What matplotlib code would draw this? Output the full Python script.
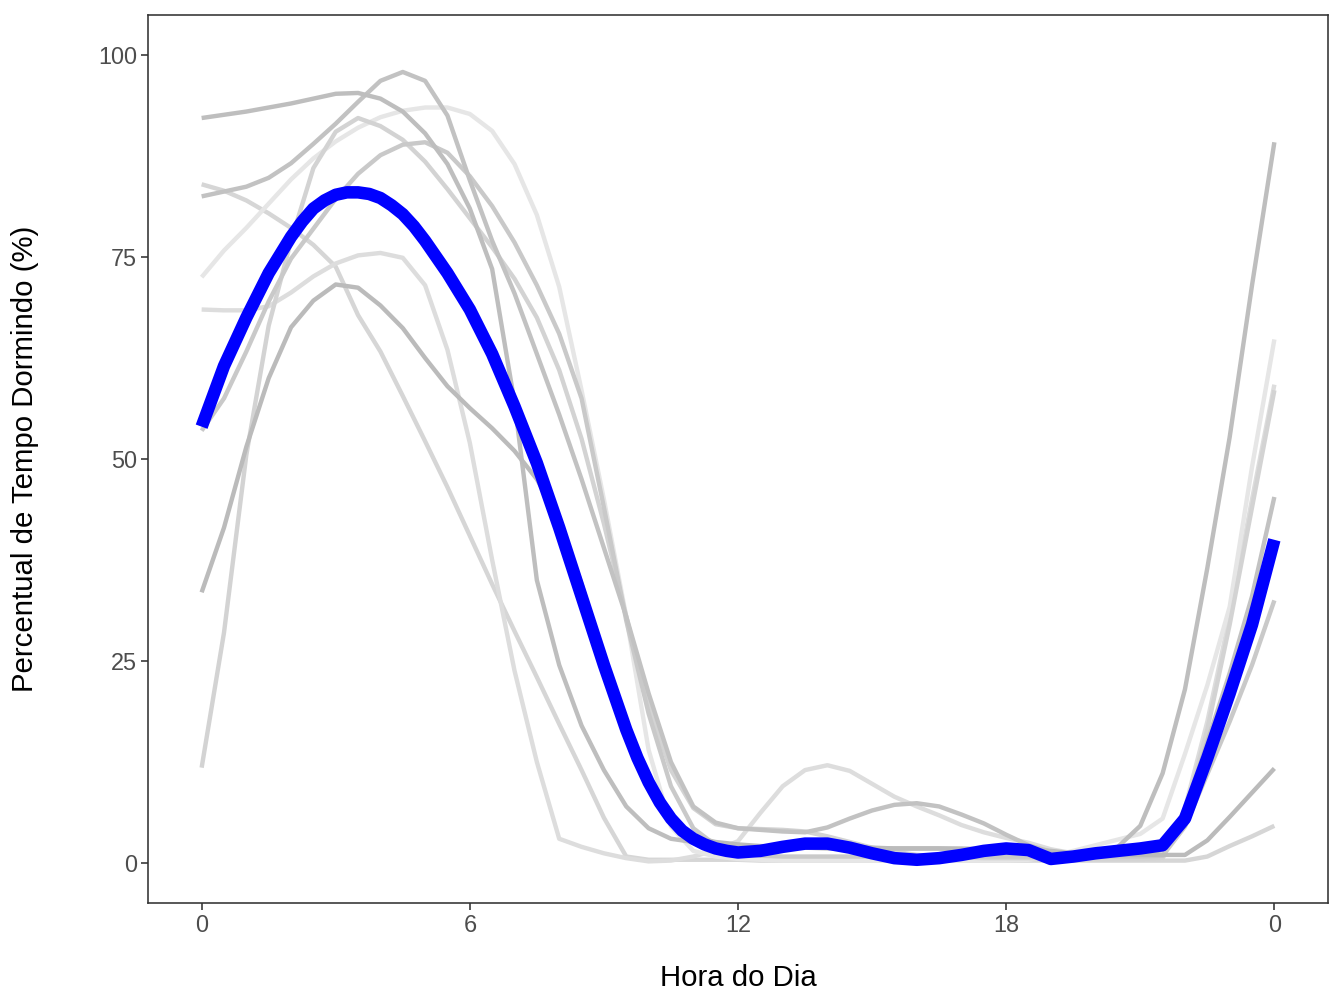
import matplotlib
matplotlib.use('Agg')
import matplotlib.pyplot as plt
import numpy as np

plt.rcParams['font.family'] = ['Liberation Sans', 'DejaVu Sans']

# Hour of day grid (half-hour steps)
hours = np.arange(0, 24.5, 0.5)

# Individual series (% time asleep)
ind_a = [92.2, 92.6, 93.0, 93.5, 94.0, 94.6, 95.2, 95.3, 94.6, 93.0, 90.3, 86.5,
         81.0, 73.5, 57.0, 35.0, 24.5, 17.0, 11.5, 7.0, 4.3, 3.0, 2.6, 2.3,
         2.1, 2.0, 1.9, 1.9, 1.8, 1.8, 1.8, 1.8, 1.8, 1.8, 1.8, 1.7,
         1.6, 1.5, 1.3, 1.2, 1.3, 2.0, 4.6, 11.1, 21.5, 36.5, 52.7, 71.5,
         89.2]
ind_b = [82.5, 83.1, 83.7, 84.8, 86.6, 89.0, 91.5, 94.2, 96.8, 97.9, 96.8, 92.5,
         84.5, 77.0, 70.5, 63.0, 55.5, 47.5, 39.0, 30.5, 21.0, 12.5, 7.0, 5.0,
         4.3, 4.1, 3.9, 3.8, 4.4, 5.5, 6.5, 7.2, 7.4, 7.0, 6.0, 4.9,
         3.5, 2.2, 1.4, 1.1, 1.0, 1.0, 1.1, 1.6, 6.5, 15.0, 23.5, 33.0,
         45.3]
ind_c = [84.0, 83.2, 82.0, 80.4, 78.6, 76.5, 73.8, 67.8, 63.3, 57.8, 52.2, 46.5,
         40.5, 34.5, 28.7, 23.0, 17.2, 11.5, 5.6, 0.8, 0.4, 0.4, 0.4, 0.4,
         0.4, 0.3, 0.3, 0.3, 0.3, 0.3, 0.3, 0.3, 0.3, 0.3, 0.3, 0.3,
         0.3, 0.3, 0.3, 0.3, 0.3, 0.3, 0.3, 0.3, 0.3, 0.8, 2.1, 3.3,
         4.6]
ind_d = [11.8, 28.5, 50.5, 66.5, 77.0, 86.0, 90.5, 92.2, 91.2, 89.5, 86.8, 83.4,
         79.8, 76.2, 72.3, 67.5, 61.0, 52.5, 42.0, 30.5, 19.5, 11.5, 6.8, 4.8,
         4.3, 4.2, 4.1, 3.9, 3.3, 2.6, 1.9, 1.4, 1.0, 0.8, 0.7, 0.6,
         0.6, 0.6, 0.5, 0.5, 0.5, 0.5, 0.5, 0.6, 6.2, 16.5, 29.5, 44.0,
         58.5]
ind_e = [33.5, 41.5, 51.5, 60.0, 66.3, 69.6, 71.6, 71.2, 69.0, 66.2, 62.5, 59.0,
         56.3, 53.8, 51.0, 47.5, 42.5, 34.5, 25.5, 17.5, 10.5, 5.5, 3.2, 2.6,
         2.3, 2.1, 2.0, 2.0, 1.9, 1.9, 1.9, 1.8, 1.8, 1.8, 1.7, 1.7,
         1.6, 1.6, 1.5, 1.2, 1.1, 1.0, 1.0, 1.0, 1.0, 2.8, 5.7, 8.7,
         11.7]
ind_f = [68.5, 68.4, 68.4, 68.9, 70.6, 72.6, 74.2, 75.2, 75.5, 74.9, 71.5, 63.5,
         52.0, 37.5, 23.8, 12.5, 3.0, 2.0, 1.2, 0.6, 0.2, 0.3, 0.8, 1.6,
         2.7, 6.2, 9.5, 11.5, 12.1, 11.4, 9.8, 8.2, 7.0, 5.9, 4.7, 3.8,
         3.1, 2.5, 1.7, 1.2, 0.9, 0.7, 0.6, 0.6, 6.8, 17.5, 30.5, 45.0,
         59.2]
ind_h = [72.5, 75.8, 78.6, 81.6, 84.6, 87.2, 89.3, 91.0, 92.3, 93.1, 93.5, 93.5,
         92.7, 90.6, 86.5, 80.2, 71.3, 58.5, 45.0, 30.5, 14.0, 4.5, 1.5, 0.8,
         0.5, 0.4, 0.3, 0.3, 0.3, 0.3, 0.3, 0.3, 0.3, 0.3, 0.3, 0.3,
         0.3, 0.4, 0.8, 1.5, 2.2, 2.9, 3.6, 5.5, 13.5, 22.0, 31.7, 49.0,
         64.8]
ind_i = [53.5, 57.5, 63.3, 69.5, 74.8, 78.5, 82.2, 85.3, 87.6, 88.9, 89.2, 87.9,
         85.0, 81.3, 76.8, 71.5, 65.5, 57.5, 44.0, 30.0, 18.5, 9.5, 4.3, 2.2,
         1.2, 0.9, 0.8, 0.8, 0.8, 0.8, 0.8, 0.8, 0.8, 0.8, 0.8, 0.8,
         0.8, 0.8, 0.8, 0.8, 0.8, 0.8, 0.8, 0.9, 4.5, 11.0, 17.5, 24.5,
         32.5]

# Overall smoothed curve (finer steps where it bends)
overall_hours = [0, 0.5, 1, 1.5, 2, 2.25, 2.5, 2.75, 3, 3.25, 3.5, 3.75, 4, 4.25,
                 4.5, 4.75, 5, 5.5, 6, 6.5, 7, 7.5, 8, 8.5, 9, 9.5, 9.75, 10,
                 10.25, 10.5, 10.75, 11, 11.25, 11.5, 11.75, 12, 12.5, 13, 13.5,
                 14, 14.5, 15, 15.5, 16, 16.5, 17, 17.5, 18, 18.5, 19, 19.5, 20,
                 20.5, 21, 21.5, 22, 22.5, 23, 23.5, 24]
overall = [54.0, 61.5, 67.5, 73.0, 77.5, 79.4, 81.0, 82.0, 82.7, 83.0, 83.0, 82.8,
           82.3, 81.4, 80.3, 78.8, 77.0, 73.0, 68.5, 63.0, 56.5, 49.5, 41.5, 33.0,
           24.5, 16.5, 13.0, 10.0, 7.5, 5.5, 4.0, 3.0, 2.3, 1.8, 1.5, 1.3, 1.5,
           2.0, 2.4, 2.4, 1.9, 1.2, 0.6, 0.4, 0.6, 1.0, 1.5, 1.8, 1.6, 0.5, 0.8,
           1.2, 1.5, 1.8, 2.2, 5.5, 13.0, 21.0, 29.5, 40.0]

x_ticks = [0, 6, 12, 18, 24]
x_tick_labels = ["0", "6", "12", "18", "0"]
y_ticks = [0, 25, 50, 75, 100]

series = [ind_c, ind_f, ind_h, ind_d, ind_i, ind_b, ind_a, ind_e]
colors = ['#D6D6D6', '#DDDDDD', '#E6E6E6', '#D3D3D3', '#C9C9C9', '#C2C2C2', '#BEBEBE', '#BBBBBB']

fig = plt.figure(figsize=(7, 5.25), dpi=192)
ax = fig.add_axes([148/1344, 1 - 903/1008, 1180/1344, 888/1008])

for vals, col in zip(series, colors):
    ax.plot(hours, vals, color=col, lw=1.65, solid_capstyle='butt', solid_joinstyle='round')
ax.plot(overall_hours, overall, color='#0000FF', lw=4.7, solid_capstyle='butt',
        solid_joinstyle='round')

ax.set_xlim(-1.2, 25.2)
ax.set_ylim(-4.95, 104.95)
ax.set_xticks(x_ticks)
ax.set_xticklabels(x_tick_labels)
ax.set_yticks(y_ticks)
ax.tick_params(length=2.75, width=0.6, color='#333333', labelcolor='#4D4D4D',
               labelsize=8.8, pad=1.4)
for sp in ax.spines.values():
    sp.set_color('#333333')
    sp.set_linewidth(0.6)

ax.set_xlabel('Hora do Dia', fontsize=11, color='black')
ax.xaxis.set_label_coords(0.5, (903 - 978) / 888)
ax.xaxis.label.set_va('center')
ax.set_ylabel('Percentual de Tempo Dormindo (%)', fontsize=11, color='black')
ax.yaxis.set_label_coords((25 - 148) / 1180, 0.5)
ax.yaxis.label.set_va('center')
ax.yaxis.label.set_ha('center')

fig.savefig('out.png', dpi=192, facecolor='white')
